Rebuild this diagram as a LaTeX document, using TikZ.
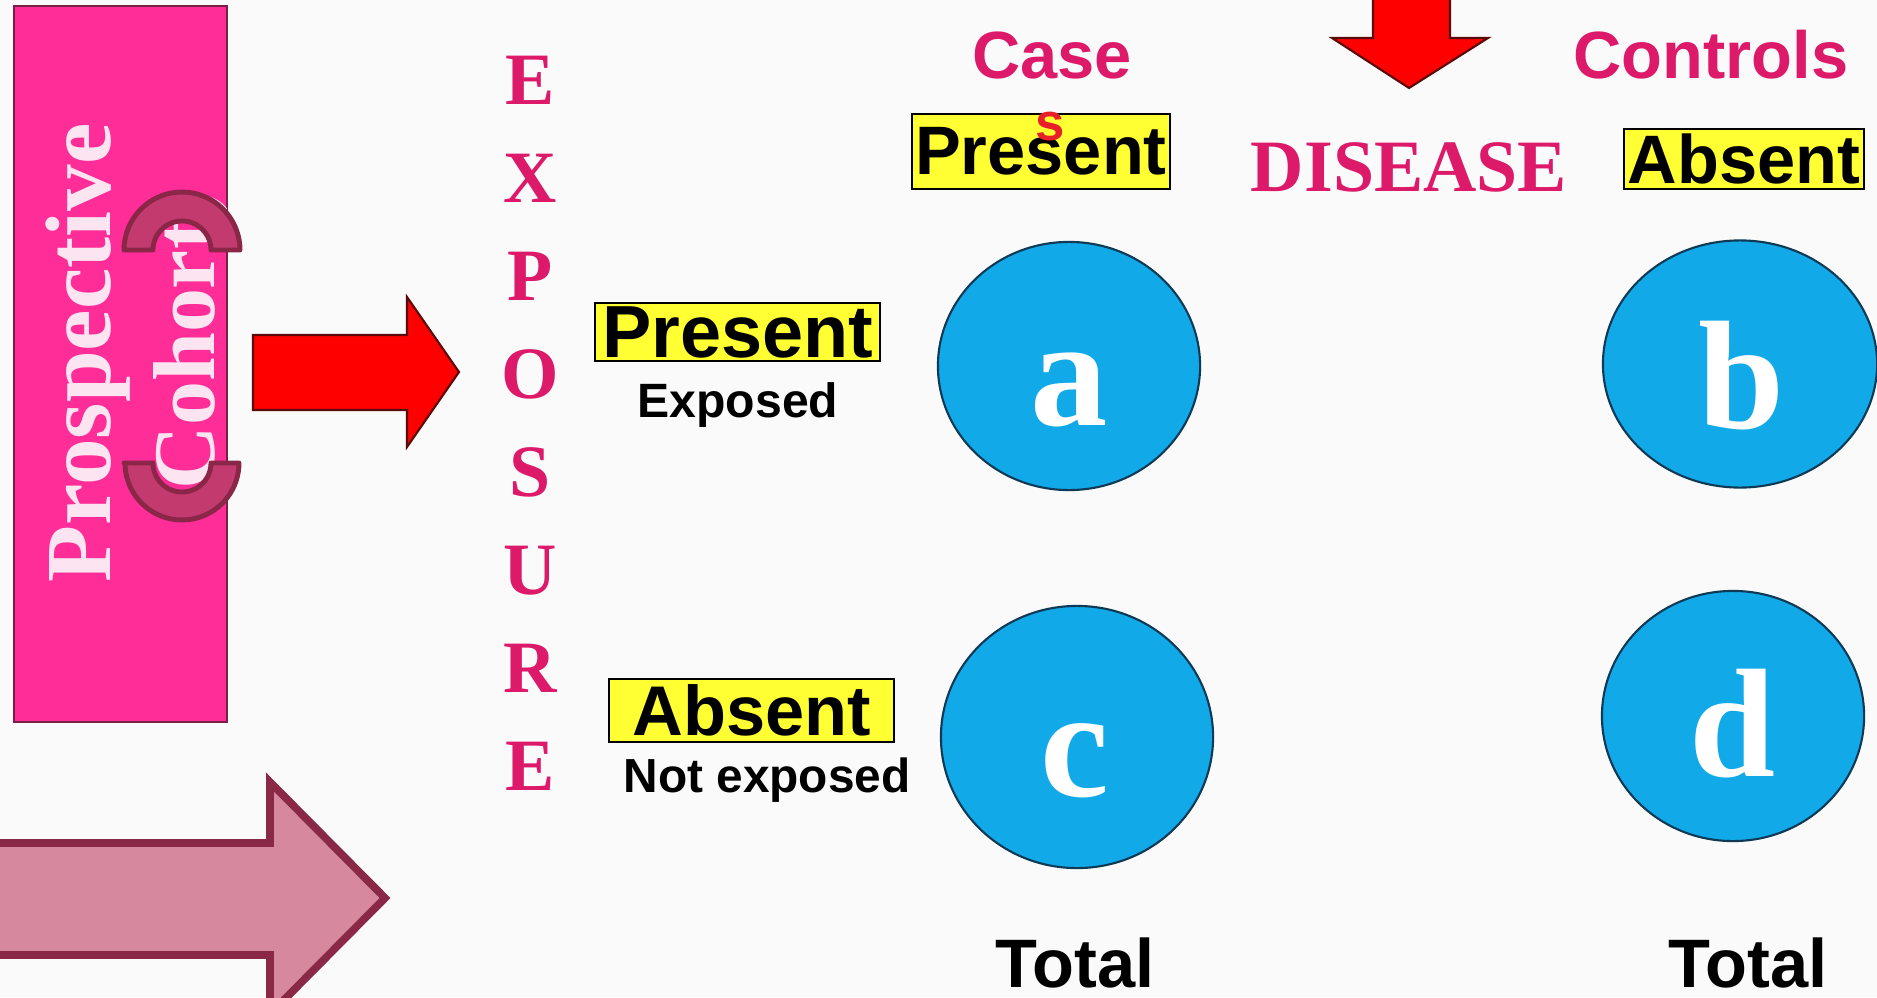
\documentclass[tikz,border=0pt]{standalone}
\usepackage{fontspec}
\newfontfamily\sansfam{Liberation Sans}
\newfontfamily\seriffam{Liberation Serif}[BoldFont={Liberation Serif Bold}]
\usetikzlibrary{shapes.geometric}

\definecolor{pagebg}{HTML}{FAFAFA}
\definecolor{cohortpink}{HTML}{FF2D98}
\definecolor{cohortedge}{HTML}{7A2046}
\definecolor{cohorttext}{HTML}{FDE4F1}
\definecolor{bracketfill}{HTML}{C23A6E}
\definecolor{bracketedge}{HTML}{8A2748}
\definecolor{arrowred}{HTML}{FF0000}
\definecolor{arrowedge}{HTML}{5A0A0A}
\definecolor{bigarrowfill}{HTML}{D6889F}
\definecolor{bigarrowedge}{HTML}{8A2848}
\definecolor{headcrimson}{HTML}{DD1A6A}
\definecolor{stray}{HTML}{E8202A}
\definecolor{boxyellow}{HTML}{FFFF33}
\definecolor{cellblue}{HTML}{12A9E9}
\definecolor{cellline}{HTML}{0E3A55}

\newcommand{\fsz}[1]{\fontsize{#1}{1.15\dimexpr#1\relax}\selectfont}

\begin{document}
\begin{tikzpicture}[x=0.01cm, y=-0.01cm,
  yellowbox/.style={draw=black, line width=0.7pt, fill=boxyellow, inner sep=0pt,
    font=\sansfam\bfseries\fsz{#1}},
  cell/.style={ellipse, draw=cellline, line width=0.6pt, fill=cellblue, inner sep=0pt},
  cellletter/.style={anchor=base, inner sep=0pt, text=white, font=\seriffam\bfseries\fsz{44pt}},
  crimsonsans/.style={anchor=base, inner sep=0pt, text=headcrimson, font=\sansfam\bfseries\fsz{19pt}},
  crimsonserif/.style={anchor=base, inner sep=0pt, text=headcrimson, font=\seriffam\bfseries\fsz{21pt}},
  blacklabel/.style={anchor=base, inner sep=0pt, text=black, font=\sansfam\bfseries\fsz{#1}},
  panelword/.style={rotate=90, anchor=base, inner sep=0pt, text=cohorttext,
    font=\seriffam\bfseries\fsz{#1}},
  redblock/.style={fill=arrowred, draw=arrowedge, line width=0.6pt, line join=miter},
  bracket/.style={fill=bracketfill, draw=bracketedge, line width=1.4pt, line join=round}
]
% page
\fill[pagebg] (0,0) rectangle (1877,997);
\clip (0,0) rectangle (1877,997);

% study design panel
\node (cohort) [draw=cohortedge, line width=0.7pt, fill=cohortpink,
  minimum width=2.13cm, minimum height=7.16cm, inner sep=0pt] at (120.5,364) {};
\begin{scope}
  \clip (14,6) rectangle (226,722);
  \node (prosp) [panelword=26.5pt] at (110,353) {Prospective};
  \node (cohortword) [panelword=25pt] at (214,355) {(Cohort)};
\end{scope}

% bracket arcs over the panel
\path[bracket] (124,250)
  -- plot[domain=180:360, samples=40] ({182+58*cos(\x)}, {250+58*sin(\x)})
  -- (211,250)
  -- plot[domain=360:180, samples=40] ({182+29*cos(\x)}, {250+29*sin(\x)})
  -- cycle;
\path[bracket] (124,463)
  -- plot[domain=180:0, samples=40] ({182+57*cos(\x)}, {463+57*sin(\x)})
  -- (211,463)
  -- plot[domain=0:180, samples=40] ({182+29*cos(\x)}, {463+29*sin(\x)})
  -- cycle;

% arrow into the exposure axis
\path[redblock] (253,335) -- (407,335) -- (407,297) -- (459,372)
  -- (407,447) -- (407,410) -- (253,410) -- cycle;

% arrow down onto the disease axis
\path[redblock] (1373,-5) -- (1450,-5) -- (1450,38) -- (1488,38)
  -- (1409,88) -- (1332,38) -- (1373,38) -- cycle;

% large arrow at the bottom left
\path[fill=bigarrowfill, draw=bigarrowedge, line width=2.2pt, line join=miter]
  (-20,843) -- (270,843) -- (270,782) -- (385,898) -- (270,1014)
  -- (270,955) -- (-20,955) -- cycle;

% exposure axis
\foreach \ch [count=\i from 0] in {E,X,P,O,S,U,R,E}
  \node (exp\i) [crimsonserif] at (530,{104+98.1*\i}) {\ch};

% disease axis headings
\node (caselbl) [crimsonsans] at (1052,79) {Case};
\node (ctrllbl) [crimsonsans] at (1711,79) {Controls};
\node (dislbl) [crimsonserif] at (1409,191) {DISEASE};

\node (dpres) [yellowbox=19.5pt, minimum width=2.58cm, minimum height=0.75cm] at (1041,151.5) {Present};
\node (straysl) [text=stray, font=\sansfam\bfseries\fsz{15pt}] at (1050,127) {s};
\node (dabs) [yellowbox=19.5pt, minimum width=2.40cm, minimum height=0.60cm] at (1744,159) {Absent};

% exposure categories
\node (epres) [yellowbox=21pt, minimum width=2.85cm, minimum height=0.58cm] at (737.5,332) {Present};
\node (exposed) [blacklabel=13.7pt] at (738,417) {Exposed};
\node (eabs) [yellowbox=20pt, minimum width=2.85cm, minimum height=0.63cm] at (751.5,710.5) {Absent};
\node (notexp) [blacklabel=13.6pt] at (767,792) {Not exposed};

% the four cells
\node (ca) [cell, minimum width=2.62cm, minimum height=2.48cm] at (1069,366) {};
\node (cb) [cell, minimum width=2.74cm, minimum height=2.47cm] at (1740,364) {};
\node (cc) [cell, minimum width=2.72cm, minimum height=2.62cm] at (1077,737) {};
\node (cd) [cell, minimum width=2.62cm, minimum height=2.50cm] at (1733,716) {};
\node (la) [cellletter] at (1069,425) {a};
\node (lb) [cellletter] at (1741,428) {b};
\node (lc) [cellletter] at (1075,796) {c};
\node (ld) [cellletter] at (1732,776) {d};

% column totals
\node (totl) [blacklabel=19.5pt] at (1075,987) {Total};
\node (totr) [blacklabel=19.5pt] at (1748,987) {Total};
\end{tikzpicture}
\end{document}
